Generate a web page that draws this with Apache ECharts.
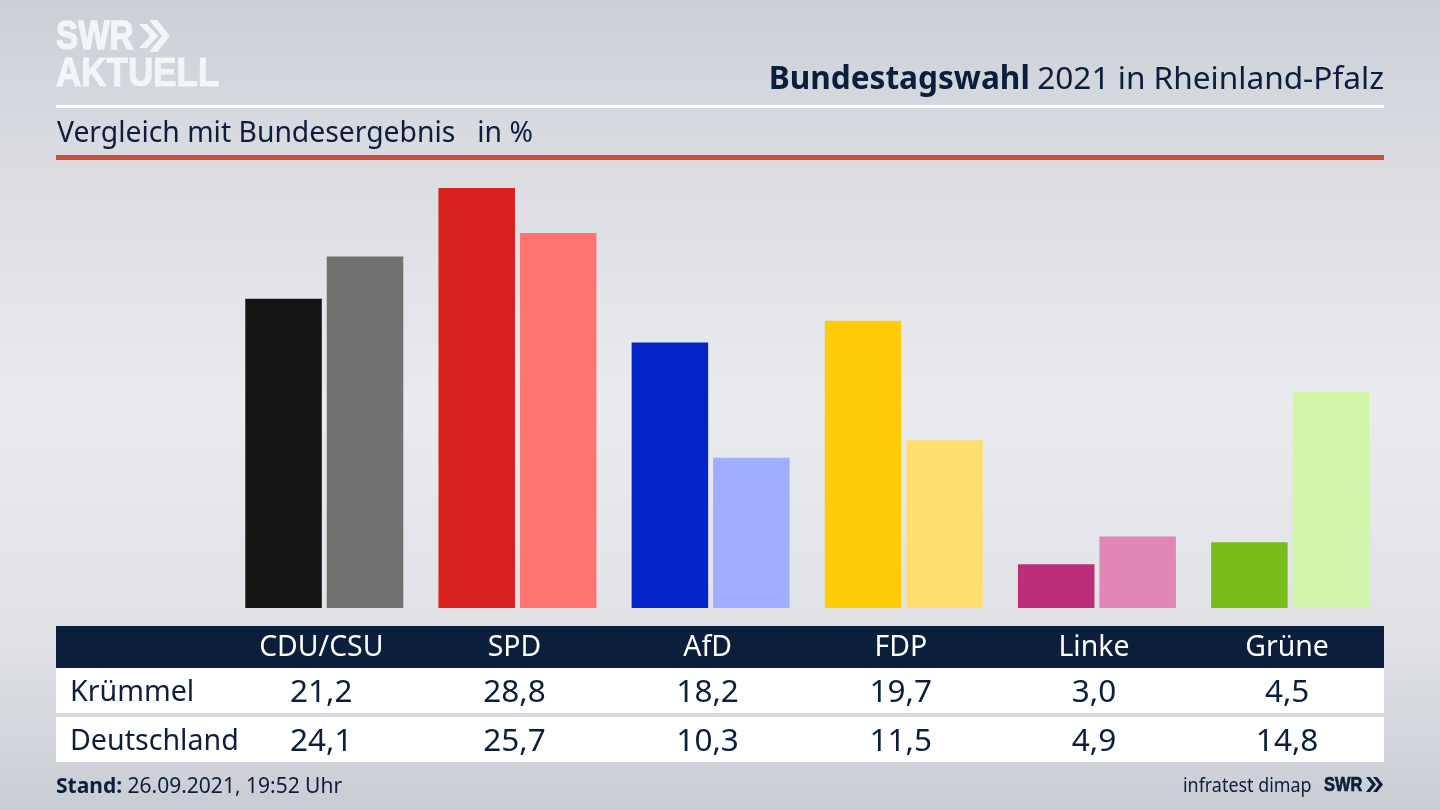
<!DOCTYPE html>
<html><head><meta charset="utf-8">
<style>html,body{margin:0;padding:0;width:1440px;height:810px;overflow:hidden}#c{width:1440px;height:810px}</style>
<script src="https://cdn.jsdelivr.net/npm/echarts@6/dist/echarts.min.js"></script>
</head><body><div id="c"></div>
<script>
const categories = ['CDU/CSU','SPD','AfD','FDP','Linke','Grüne'];
const krummel = [21.2,28.8,18.2,19.7,3.0,4.5];
const deutschland = [24.1,25.7,10.3,11.5,4.9,14.8];
const colorsA = ['#141414','#d8201f','#0324c8','#ffcc0a','#bc2f78','#79bc1c'];
const colorsB = ['#72716f','#ff7370','#a0aeff','#ffdf70','#e087b6','#d2f6a9'];
const rowNames = ['Krümmel','Deutschland'];
const FONT = '"Noto Sans"', NAVY = '#0b1f3c', LOGO = '#f4f5f7', LOGOFONT = '"Liberation Sans"';
const fmt = v => v.toFixed(1).replace('.', ',');
const chart = echarts.init(document.getElementById('c'));
chart.setOption({
  animation:false,
  backgroundColor:{type:'linear',x:0,y:0,x2:0,y2:1,colorStops:[
    {offset:0,color:'#ccd0d6'},{offset:.2,color:'#dadce2'},{offset:.5,color:'#eaebef'},{offset:.8,color:'#dfe1e6'},{offset:1,color:'#c9ccd3'}]},
  grid:{left:227.7,right:53.3,top:158,bottom:202},
  xAxis:{type:'category',data:categories,axisLine:{show:false},axisTick:{show:false},
    axisLabel:{show:true,margin:23,color:'#ffffff',fontFamily:FONT,fontSize:28.4,lineHeight:34,padding:[0,6,0,0]}},
  yAxis:{type:'value',min:0,max:30.85,show:false},
  series:[
    {type:'bar',name:'Krümmel',barWidth:76.5,barGap:'6.5%',data:krummel.map((v,i)=>({value:v,itemStyle:{color:colorsA[i]}})),z:3},
    {type:'bar',name:'Deutschland',barWidth:76.5,data:deutschland.map((v,i)=>({value:v,itemStyle:{color:colorsB[i]}})),z:3}
  ]
});
const cx = categories.map((c,i)=>chart.convertToPixel({xAxisIndex:0},i));
const rect=(x,y,w,h,fill,z=0)=>({type:'rect',silent:true,z,shape:{x,y,width:w,height:h},style:{fill}});
const text=(x,y,t,o={})=>Object.assign({type:'text',silent:true,z:5,x,y,style:Object.assign({text:t,fill:NAVY,fontFamily:FONT,fontSize:28.6,align:'left',verticalAlign:'middle'},o.style||{})},o.el||{});
const chev=(x,y,h,w,fill,th)=>({type:'polygon',silent:true,z:5,shape:{points:[[x,y],[x+th,y],[x+th+w,y+h/2],[x+th,y+h],[x,y+h],[x+w,y+h/2]]},style:{fill}});
const els=[
  rect(56,105,1328,3,'#ffffff'),
  rect(56,155,1328,5,'#c9503f'),
  rect(56,626,1328,42,NAVY,-1),
  rect(56,668,1328,45,'#ffffff'),
  rect(56,717,1328,45,'#ffffff'),
  text(1384,80,'',{style:{align:'right',rich:{b:{fontFamily:FONT,fontSize:31.6,fontWeight:'bold',fill:NAVY},r:{fontFamily:FONT,fontSize:31.6,fill:NAVY}},text:'{b|Bundestagswahl} {r|2021 in Rheinland-Pfalz}'}}),
  text(57,134,'Vergleich mit Bundesergebnis   in %',{style:{fontSize:28.3}}),
  text(70,693,rowNames[0]),
  text(70,742,rowNames[1]),
  text(56,787,'',{style:{rich:{b:{fontFamily:FONT,fontSize:21,fontWeight:'bold',fill:NAVY},r:{fontFamily:FONT,fontSize:21,fill:NAVY}},text:'{b|Stand:}{r| 26.09.2021, 19:52 Uhr}'}}),
  text(1183,786,'infratest dimap',{style:{fontSize:20},el:{scaleX:.895}}),
  text(1324,785,'SWR',{style:{fontSize:21,fontWeight:'bold',fontFamily:LOGOFONT,stroke:NAVY,lineWidth:.7},el:{scaleX:.78}}),
  chev(1366,777,15,6,NAVY,4),chev(1373,777,15,6,NAVY,4),
  text(56,38,'SWR',{style:{fill:LOGO,fontSize:41,fontWeight:'bold',fontFamily:LOGOFONT,stroke:LOGO,lineWidth:1.5},el:{scaleX:.81}}),
  text(56,75,'AKTUELL',{style:{fill:LOGO,fontSize:40,fontWeight:'bold',fontFamily:LOGOFONT,stroke:LOGO,lineWidth:1},el:{scaleX:.875}}),
  chev(139,24,24,11,LOGO,8),chev(149,20,32,13,LOGO,8)
];
categories.forEach((c,i)=>{
  els.push(text(cx[i]-3,693,fmt(krummel[i]),{style:{align:'center',fontSize:31.5}}));
  els.push(text(cx[i]-3,742,fmt(deutschland[i]),{style:{align:'center',fontSize:31.5}}));
});
chart.setOption({graphic:{elements:els}});
</script></body></html>
